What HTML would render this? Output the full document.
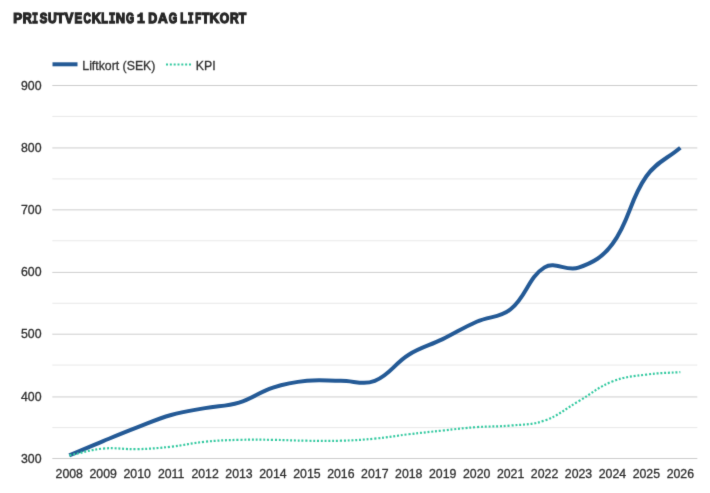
<!DOCTYPE html>
<html><head><meta charset="utf-8">
<style>
html,body{margin:0;padding:0;background:#fff;width:710px;height:493px;overflow:hidden}
svg{display:block}
.t{font-family:"Liberation Sans",sans-serif;font-weight:bold;font-size:13.2px;fill:#2f2f2f;letter-spacing:0.12px}
.l{font-family:"Liberation Sans",sans-serif;font-size:12.3px;fill:#2e2e2e;stroke:#2e2e2e;stroke-width:0.3px}
</style></head><body>
<svg width="710" height="493" viewBox="0 0 710 493">
<defs><filter id="bl" x="0" y="0" width="710" height="493" filterUnits="userSpaceOnUse" color-interpolation-filters="sRGB"><feConvolveMatrix order="3" kernelMatrix="0.0100 0.0800 0.0100 0.0800 0.6400 0.0800 0.0100 0.0800 0.0100" edgeMode="duplicate"/></filter></defs>
<g filter="url(#bl)">
<rect width="710" height="493" fill="#fff"/>
<text transform="translate(13.30 23.1) scale(0.959 1)" x="0" y="0" style="font-family:'Liberation Sans';font-weight:bold;font-size:14.0px" fill="#262626" stroke="#262626" stroke-width="1.2" vector-effect="non-scaling-stroke">P</text><text transform="translate(22.67 23.1) scale(0.889 1)" x="0" y="0" style="font-family:'Liberation Sans';font-weight:bold;font-size:14.0px" fill="#262626" stroke="#262626" stroke-width="1.2" vector-effect="non-scaling-stroke">R</text><text transform="translate(32.03 23.1) scale(0.719 1)" x="0" y="0" style="font-family:'Liberation Mono';font-weight:bold;font-size:14.0px" fill="#262626" stroke="#262626" stroke-width="1.2" vector-effect="non-scaling-stroke">I</text><text transform="translate(39.87 23.1) scale(0.811 1)" x="0" y="0" style="font-family:'Liberation Sans';font-weight:bold;font-size:14.0px" fill="#262626" stroke="#262626" stroke-width="1.2" vector-effect="non-scaling-stroke">S</text><text transform="translate(47.88 23.1) scale(0.856 1)" x="0" y="0" style="font-family:'Liberation Sans';font-weight:bold;font-size:14.0px" fill="#262626" stroke="#262626" stroke-width="1.2" vector-effect="non-scaling-stroke">U</text><text transform="translate(56.56 23.1) scale(0.922 1)" x="0" y="0" style="font-family:'Liberation Sans';font-weight:bold;font-size:14.0px" fill="#262626" stroke="#262626" stroke-width="1.2" vector-effect="non-scaling-stroke">T</text><text transform="translate(64.81 23.1) scale(0.918 1)" x="0" y="0" style="font-family:'Liberation Sans';font-weight:bold;font-size:14.0px" fill="#262626" stroke="#262626" stroke-width="1.2" vector-effect="non-scaling-stroke">V</text><text transform="translate(74.54 23.1) scale(0.815 1)" x="0" y="0" style="font-family:'Liberation Sans';font-weight:bold;font-size:14.0px" fill="#262626" stroke="#262626" stroke-width="1.2" vector-effect="non-scaling-stroke">E</text><text transform="translate(83.58 23.1) scale(0.732 1)" x="0" y="0" style="font-family:'Liberation Sans';font-weight:bold;font-size:14.0px" fill="#262626" stroke="#262626" stroke-width="1.2" vector-effect="non-scaling-stroke">C</text><text transform="translate(91.76 23.1) scale(0.896 1)" x="0" y="0" style="font-family:'Liberation Sans';font-weight:bold;font-size:14.0px" fill="#262626" stroke="#262626" stroke-width="1.2" vector-effect="non-scaling-stroke">K</text><text transform="translate(101.37 23.1) scale(0.779 1)" x="0" y="0" style="font-family:'Liberation Sans';font-weight:bold;font-size:14.0px" fill="#262626" stroke="#262626" stroke-width="1.2" vector-effect="non-scaling-stroke">L</text><text transform="translate(108.64 23.1) scale(0.799 1)" x="0" y="0" style="font-family:'Liberation Mono';font-weight:bold;font-size:14.0px" fill="#262626" stroke="#262626" stroke-width="1.2" vector-effect="non-scaling-stroke">I</text><text transform="translate(115.64 23.1) scale(0.923 1)" x="0" y="0" style="font-family:'Liberation Sans';font-weight:bold;font-size:14.0px" fill="#262626" stroke="#262626" stroke-width="1.2" vector-effect="non-scaling-stroke">N</text><text transform="translate(125.97 23.1) scale(0.741 1)" x="0" y="0" style="font-family:'Liberation Sans';font-weight:bold;font-size:14.0px" fill="#262626" stroke="#262626" stroke-width="1.2" vector-effect="non-scaling-stroke">G</text><text transform="translate(137.12 23.1) scale(0.932 1)" x="0" y="0" style="font-family:'Liberation Mono';font-weight:bold;font-size:14.0px" fill="#262626" stroke="#262626" stroke-width="1.2" vector-effect="non-scaling-stroke">1</text><text transform="translate(148.37 23.1) scale(0.885 1)" x="0" y="0" style="font-family:'Liberation Sans';font-weight:bold;font-size:14.0px" fill="#262626" stroke="#262626" stroke-width="1.2" vector-effect="non-scaling-stroke">D</text><text transform="translate(157.97 23.1) scale(0.958 1)" x="0" y="0" style="font-family:'Liberation Sans';font-weight:bold;font-size:14.0px" fill="#262626" stroke="#262626" stroke-width="1.2" vector-effect="non-scaling-stroke">A</text><text transform="translate(168.86 23.1) scale(0.773 1)" x="0" y="0" style="font-family:'Liberation Sans';font-weight:bold;font-size:14.0px" fill="#262626" stroke="#262626" stroke-width="1.2" vector-effect="non-scaling-stroke">G</text><text transform="translate(180.37 23.1) scale(0.779 1)" x="0" y="0" style="font-family:'Liberation Sans';font-weight:bold;font-size:14.0px" fill="#262626" stroke="#262626" stroke-width="1.2" vector-effect="non-scaling-stroke">L</text><text transform="translate(187.75 23.1) scale(0.703 1)" x="0" y="0" style="font-family:'Liberation Mono';font-weight:bold;font-size:14.0px" fill="#262626" stroke="#262626" stroke-width="1.2" vector-effect="non-scaling-stroke">I</text><text transform="translate(195.17 23.1) scale(0.676 1)" x="0" y="0" style="font-family:'Liberation Sans';font-weight:bold;font-size:14.0px" fill="#262626" stroke="#262626" stroke-width="1.2" vector-effect="non-scaling-stroke">F</text><text transform="translate(201.66 23.1) scale(0.885 1)" x="0" y="0" style="font-family:'Liberation Sans';font-weight:bold;font-size:14.0px" fill="#262626" stroke="#262626" stroke-width="1.2" vector-effect="non-scaling-stroke">T</text><text transform="translate(209.60 23.1) scale(0.962 1)" x="0" y="0" style="font-family:'Liberation Sans';font-weight:bold;font-size:14.0px" fill="#262626" stroke="#262626" stroke-width="1.2" vector-effect="non-scaling-stroke">K</text><text transform="translate(219.80 23.1) scale(0.864 1)" x="0" y="0" style="font-family:'Liberation Sans';font-weight:bold;font-size:14.0px" fill="#262626" stroke="#262626" stroke-width="1.2" vector-effect="non-scaling-stroke">O</text><text transform="translate(230.00 23.1) scale(0.855 1)" x="0" y="0" style="font-family:'Liberation Sans';font-weight:bold;font-size:14.0px" fill="#262626" stroke="#262626" stroke-width="1.2" vector-effect="non-scaling-stroke">R</text><text transform="translate(238.86 23.1) scale(0.873 1)" x="0" y="0" style="font-family:'Liberation Sans';font-weight:bold;font-size:14.0px" fill="#262626" stroke="#262626" stroke-width="1.2" vector-effect="non-scaling-stroke">T</text>
<rect x="52.5" y="62.3" width="25" height="4" fill="#245a96"/>
<text class="l" x="82.3" y="69.6" style="fill:#333;stroke:#333">Liftkort (SEK)</text>
<line x1="166" x2="192" y1="64.5" y2="64.5" stroke="#33c9a0" stroke-width="2" stroke-dasharray="2 1.83"/>
<text class="l" x="195.8" y="69.6" style="fill:#333;stroke:#333">KPI</text>
<g><line x1="52.3" x2="697.3" y1="458.50" y2="458.50" stroke="#cdcdcd" stroke-width="1"/><line x1="52.3" x2="697.3" y1="427.60" y2="427.60" stroke="#e8e8e8" stroke-width="1"/><line x1="52.3" x2="697.3" y1="396.95" y2="396.95" stroke="#cdcdcd" stroke-width="1"/><line x1="52.3" x2="697.3" y1="365.05" y2="365.05" stroke="#e8e8e8" stroke-width="1"/><line x1="52.3" x2="697.3" y1="334.20" y2="334.20" stroke="#cdcdcd" stroke-width="1"/><line x1="52.3" x2="697.3" y1="303.25" y2="303.25" stroke="#e8e8e8" stroke-width="1"/><line x1="52.3" x2="697.3" y1="272.40" y2="272.40" stroke="#cdcdcd" stroke-width="1"/><line x1="52.3" x2="697.3" y1="240.75" y2="240.75" stroke="#e8e8e8" stroke-width="1"/><line x1="52.3" x2="697.3" y1="209.85" y2="209.85" stroke="#cdcdcd" stroke-width="1"/><line x1="52.3" x2="697.3" y1="178.90" y2="178.90" stroke="#e8e8e8" stroke-width="1"/><line x1="52.3" x2="697.3" y1="147.95" y2="147.95" stroke="#cdcdcd" stroke-width="1"/><line x1="52.3" x2="697.3" y1="116.40" y2="116.40" stroke="#e8e8e8" stroke-width="1"/><line x1="52.3" x2="697.3" y1="85.50" y2="85.50" stroke="#cdcdcd" stroke-width="1"/></g>
<g class="l"><text x="41.5" y="462.80" text-anchor="end">300</text><text x="41.5" y="400.63" text-anchor="end">400</text><text x="41.5" y="338.47" text-anchor="end">500</text><text x="41.5" y="276.30" text-anchor="end">600</text><text x="41.5" y="214.13" text-anchor="end">700</text><text x="41.5" y="151.97" text-anchor="end">800</text><text x="41.5" y="89.80" text-anchor="end">900</text></g>
<g class="l"><text x="69.27" y="478.3" text-anchor="middle">2008</text><text x="103.22" y="478.3" text-anchor="middle">2009</text><text x="137.17" y="478.3" text-anchor="middle">2010</text><text x="171.12" y="478.3" text-anchor="middle">2011</text><text x="205.06" y="478.3" text-anchor="middle">2012</text><text x="239.01" y="478.3" text-anchor="middle">2013</text><text x="272.96" y="478.3" text-anchor="middle">2014</text><text x="306.91" y="478.3" text-anchor="middle">2015</text><text x="340.85" y="478.3" text-anchor="middle">2016</text><text x="374.80" y="478.3" text-anchor="middle">2017</text><text x="408.75" y="478.3" text-anchor="middle">2018</text><text x="442.69" y="478.3" text-anchor="middle">2019</text><text x="476.64" y="478.3" text-anchor="middle">2020</text><text x="510.59" y="478.3" text-anchor="middle">2021</text><text x="544.54" y="478.3" text-anchor="middle">2022</text><text x="578.48" y="478.3" text-anchor="middle">2023</text><text x="612.43" y="478.3" text-anchor="middle">2024</text><text x="646.38" y="478.3" text-anchor="middle">2025</text><text x="680.33" y="478.3" text-anchor="middle">2026</text></g>
<path d="M69.27 455.39 C82.85 449.67 89.60 446.71 103.22 441.09 C116.76 435.52 123.51 432.67 137.17 427.42 C150.66 422.23 157.24 418.92 171.12 414.98 C184.40 411.21 191.44 410.64 205.06 408.14 C218.60 405.67 225.94 406.50 239.01 402.55 C253.10 398.29 258.91 392.13 272.96 387.63 C286.07 383.43 293.19 382.17 306.91 380.79 C320.35 379.44 327.27 380.79 340.85 380.79 C354.43 380.79 362.79 385.41 374.80 380.79 C389.95 374.97 394.24 363.58 408.75 354.68 C421.40 346.92 429.26 345.66 442.69 339.14 C456.42 332.48 462.70 327.86 476.64 321.73 C489.86 315.93 499.70 318.03 510.59 309.30 C526.85 296.27 527.87 277.57 544.54 267.34 C555.02 260.90 566.24 271.85 578.48 267.65 C593.40 262.53 602.84 256.93 612.43 244.02 C630.00 220.38 629.25 200.57 646.38 176.26 C656.41 162.03 666.75 159.11 680.33 147.67" fill="none" stroke="#245a96" stroke-width="4" stroke-linejoin="round"/>
<path d="M69.27 455.39 C82.85 452.66 89.51 449.81 103.22 448.55 C116.67 447.32 123.61 449.55 137.17 449.18 C150.76 448.80 157.59 448.17 171.12 446.69 C184.75 445.19 191.42 443.09 205.06 441.71 C218.58 440.35 225.42 440.22 239.01 439.85 C252.58 439.48 259.38 439.68 272.96 439.85 C286.54 440.02 293.32 440.55 306.91 440.72 C320.48 440.89 327.29 441.14 340.85 440.72 C354.44 440.30 361.26 439.90 374.80 438.61 C388.42 437.31 395.15 435.87 408.75 434.25 C422.31 432.64 429.11 431.96 442.69 430.52 C456.27 429.10 463.04 428.10 476.64 427.11 C490.19 426.11 497.08 426.85 510.59 425.55 C524.23 424.24 531.83 425.11 544.54 420.58 C558.99 415.42 564.96 409.11 578.48 401.31 C592.12 393.44 597.99 387.10 612.43 381.41 C625.14 376.41 632.68 376.46 646.38 374.57 C659.84 372.73 666.75 373.08 680.33 372.09" fill="none" stroke="#33c9a0" stroke-width="2.2" stroke-dasharray="2 1.83"/>
</g>
</svg>
</body></html>
